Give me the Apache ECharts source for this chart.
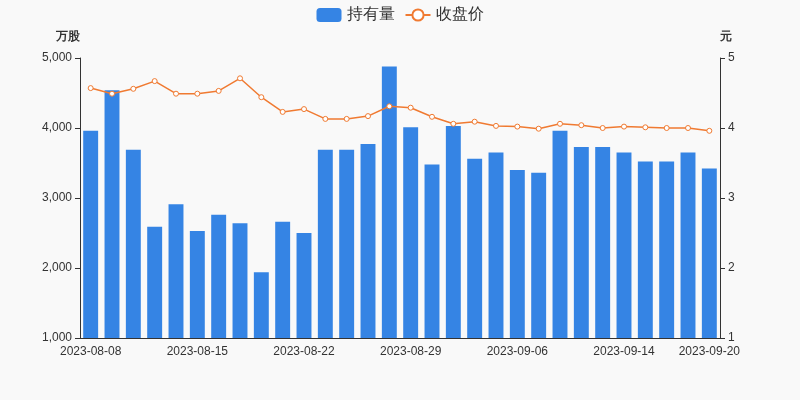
<!DOCTYPE html><html><head><meta charset="utf-8"><script src="https://cdn.jsdelivr.net/npm/echarts@6/dist/echarts.min.js"></script></head>
<body style="margin:0;background:#f9f9f9"><div id="c" style="width:800px;height:400px"></div><script>
const categories=['2023-08-08','2023-08-09','2023-08-10','2023-08-11','2023-08-14','2023-08-15','2023-08-16','2023-08-17','2023-08-18','2023-08-21','2023-08-22','2023-08-23','2023-08-24','2023-08-25','2023-08-28','2023-08-29','2023-08-30','2023-08-31','2023-09-04','2023-09-05','2023-09-06','2023-09-07','2023-09-08','2023-09-12','2023-09-13','2023-09-14','2023-09-15','2023-09-18','2023-09-19','2023-09-20'];
const holdings=[3960,4540,3690,2590,2910,2530,2760,2640,1940,2660,2500,3690,3690,3770,4880,4010,3480,4030,3560,3650,3400,3360,3960,3730,3730,3650,3520,3520,3650,3420];
const closePrice=[4.57,4.49,4.56,4.67,4.49,4.49,4.53,4.71,4.44,4.23,4.27,4.13,4.13,4.17,4.31,4.29,4.16,4.06,4.09,4.03,4.02,3.99,4.06,4.04,4.00,4.02,4.01,4.00,4.00,3.96];
const shown=[0,5,10,15,20,25,29];
const c=echarts.init(document.getElementById('c'));
c.setOption({backgroundColor:'#f9f9f9',
legend:{top:2,itemGap:10,textStyle:{fontSize:16,color:'#333'},data:['持有量','收盘价']},
grid:{left:80,right:80,top:58,bottom:62},
xAxis:{type:'category',data:categories,axisTick:{show:false},axisLine:{lineStyle:{color:'#333'}},
 axisLabel:{color:'#333',fontSize:12,interval:(i)=>shown.includes(i)}},
yAxis:[{type:'value',name:'万股',min:1000,max:5000,interval:1000,nameTextStyle:{color:'#333',fontWeight:'bold',align:'right'},
 axisLine:{show:true,lineStyle:{color:'#333'}},axisTick:{show:true},splitLine:{show:false},axisLabel:{color:'#333',formatter:v=>v.toLocaleString('en-US')}},
 {type:'value',name:'元',min:1,max:5,interval:1,nameTextStyle:{color:'#333',fontWeight:'bold',align:'left'},
 axisLine:{show:true,lineStyle:{color:'#333'}},axisTick:{show:true},splitLine:{show:false},axisLabel:{color:'#333'}}],
series:[{name:'持有量',type:'bar',data:holdings,barWidth:'70%',itemStyle:{color:'#3584e4'}},
{name:'收盘价',type:'line',yAxisIndex:1,data:closePrice,symbol:'circle',symbolSize:5,
 itemStyle:{color:'#fff',borderColor:'#f07a31',borderWidth:1},lineStyle:{color:'#f07a31',width:1.5}}]});
</script></body></html>
